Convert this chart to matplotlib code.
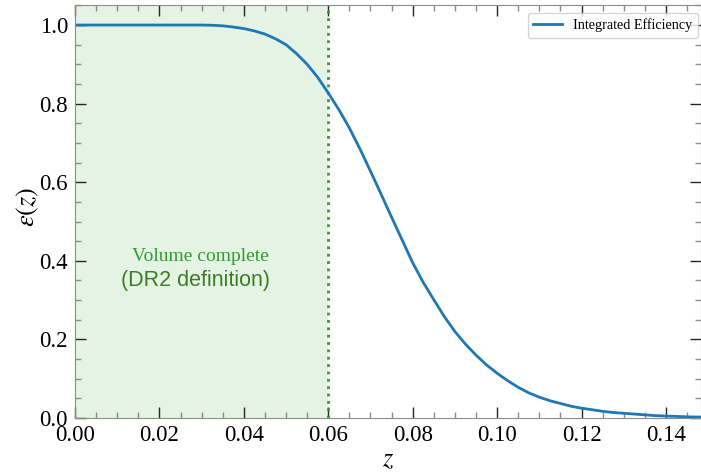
import numpy as np
import matplotlib
matplotlib.use("Agg")
import matplotlib.pyplot as plt
from matplotlib.ticker import MultipleLocator

# integrated efficiency vs redshift
z = [0.0000, 0.0100, 0.0200, 0.0250, 0.0300, 0.0325, 0.0350, 0.0375,
     0.0400, 0.0425, 0.0450, 0.0475, 0.0500, 0.0525, 0.0550, 0.0575,
     0.0600, 0.0625, 0.0650, 0.0675, 0.0700, 0.0725, 0.0750, 0.0775,
     0.0800, 0.0825, 0.0850, 0.0875, 0.0900, 0.0925, 0.0950, 0.0975,
     0.1000, 0.1025, 0.1050, 0.1075, 0.1100, 0.1125, 0.1150, 0.1175,
     0.1200, 0.1225, 0.1250, 0.1275, 0.1300, 0.1325, 0.1350, 0.1375,
     0.1400, 0.1425, 0.1450, 0.1475, 0.1500]
eff = [1.000, 1.000, 1.000, 1.000, 1.000, 0.9995, 0.998, 0.995,
       0.991, 0.985, 0.977, 0.965, 0.950, 0.927, 0.900, 0.867,
       0.827, 0.785, 0.738, 0.685, 0.628, 0.570, 0.511, 0.453,
       0.395, 0.345, 0.301, 0.258, 0.220, 0.188, 0.160, 0.135,
       0.114, 0.095, 0.078, 0.064, 0.053, 0.044, 0.037, 0.030,
       0.025, 0.021, 0.017, 0.014, 0.012, 0.010, 0.008, 0.006,
       0.005, 0.004, 0.003, 0.0025, 0.002]
z_complete = 0.06

plt.rcParams['font.family'] = ['Liberation Serif', 'DejaVu Serif']
plt.rcParams['mathtext.fontset'] = 'stix'

fig = plt.figure(figsize=(7.01, 4.73), dpi=100)
ax = fig.add_axes([75 / 701, 55 / 473, 626 / 701, 413 / 473])

ax.axvspan(0, z_complete, color='tab:green', alpha=0.12, lw=0)
ax.axvline(z_complete, color='tab:green', ls=':', lw=2)
ax.plot(z, eff, color='tab:blue', lw=2, label='Integrated Efficiency')

ax.text(0.0298, 0.412, 'Volume complete', color='tab:green', fontsize=14,
        ha='center', va='center')
ax.text(0.0285, 0.349, '(DR2 definition)', color='#3b7d23', fontsize=15.5,
        ha='center', va='center', family=['Liberation Sans', 'DejaVu Sans'])

ax.set_xlim(0, 0.1483)
ax.set_ylim(0, 1.051)
ax.xaxis.set_major_locator(MultipleLocator(0.02))
ax.xaxis.set_minor_locator(MultipleLocator(0.005))
ax.yaxis.set_major_locator(MultipleLocator(0.2))
ax.yaxis.set_minor_locator(MultipleLocator(0.05))
ax.xaxis.set_major_formatter(plt.FormatStrFormatter('%.2f'))
ax.yaxis.set_major_formatter(plt.FormatStrFormatter('%.1f'))
ax.tick_params(which='both', direction='in', top=True, right=True,
               labelsize=16.5)
ax.tick_params(which='major', length=8, width=1, color='0.15', pad=5)
ax.tick_params(which='minor', length=4, width=1, color='0.55')
for s in ax.spines.values():
    s.set_color('0.55')

ax.set_xlabel(r'$z$', fontsize=19, labelpad=2.5)
ax.set_ylabel(r'$\varepsilon(z)$', fontsize=19)
ax.yaxis.set_label_coords(-0.054, 0.51)

ax.legend(loc='upper right', fontsize=10.2, framealpha=0.8, borderaxespad=0,
          bbox_to_anchor=(698 / 701, 1 - 13 / 473),
          bbox_transform=fig.transFigure)

fig.savefig('out.png', dpi=100)
